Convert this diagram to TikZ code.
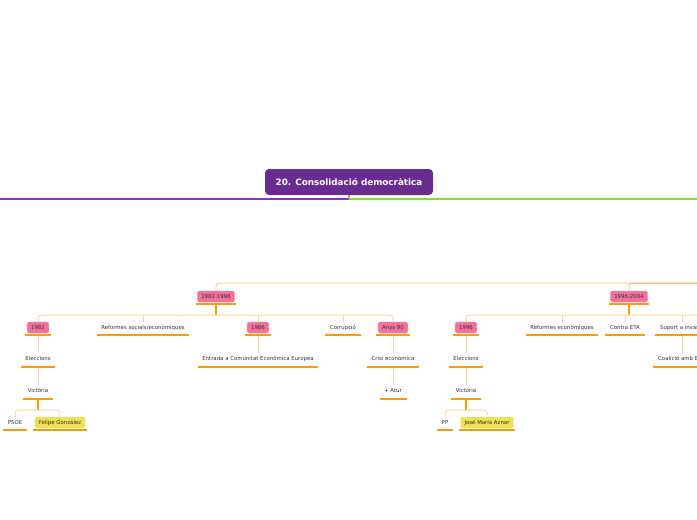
\documentclass[tikz,border=0pt]{standalone}
\usepackage{fontspec}
\setmainfont{DejaVu Sans}
\usepackage{tikz}
\usetikzlibrary{positioning,calc}
\definecolor{rootpurple}{HTML}{6A2C91}
\definecolor{leftline}{HTML}{8E2BE0}
\definecolor{rightline}{HTML}{80E02A}
\definecolor{stemolive}{HTML}{A0B040}
\definecolor{datepink}{HTML}{F4709C}
\definecolor{namegold}{HTML}{EEE055}
\definecolor{barorange}{HTML}{FF9A00}
\definecolor{twigorange}{HTML}{FDD49A}
\definecolor{inkgray}{HTML}{333333}
\tikzset{
  rootbox/.style={fill=rootpurple,rounded corners=4pt,text=white,font=\fontsize{8.8}{10}\selectfont\bfseries,
    minimum width=168pt,minimum height=26pt,inner sep=0pt},
  leaf/.style={font=\fontsize{5.4}{6.5}\selectfont,text=inkgray,inner xsep=4.5pt,inner ysep=0pt,
    minimum height=11pt,text height=4pt,text depth=0.6pt},
  datebox/.style={leaf,fill=datepink,draw=datepink!70,line width=0.4pt,rounded corners=1.5pt,inner xsep=4pt},
  namebox/.style={datebox,fill=namegold,draw=namegold!70},
  ulbar/.style={draw=barorange,line width=2.2pt},
  twig/.style={draw=twigorange,line width=1pt,rounded corners=3pt},
  topbranch/.style={draw=orange,draw opacity=0.4,line width=1pt,rounded corners=3pt},
  stem/.style={draw=barorange,line width=1.2pt}
}
\begin{document}
\begin{tikzpicture}[x=1pt,y=-1pt]
  \useasboundingbox (0,0) rectangle (697,520);
  \clip (0,0) rectangle (697,520);
  % root
  \node[rootbox] (root) at (349,182) {20. Consolidació democràtica};
  \coordinate (b0) at (349,199);
  \coordinate (w0) at (0,199);
  \coordinate (e0) at (697,199);
  \draw[leftline,line width=1.1pt] (b0) -- (w0);
  \draw[rightline,line width=1.1pt] (b0) -- (e0);
  \draw[stemolive,line width=1.1pt] (root.south) -- (b0);
  % periods
  \node[datebox] (p8296) at (216,296.5) {1982-1996};
  \node[datebox] (p9604) at (629,296.5) {1996-2004};
  \coordinate (e1) at (697,283);
  \draw[topbranch] (p8296.north) |- (e1);
  \draw[topbranch] (p9604.north) |- (e1);
  % 1982-1996
  \node[datebox] (a1982) at (38,327.5) {1982};
  \node[leaf] (refsoc) at (143,327.5) {Reformes socials/econòmiques};
  \node[datebox] (a1986) at (258,327.5) {1986};
  \node[leaf] (corrup) at (343,327.5) {Corrupció};
  \node[datebox] (a90) at (393,327.5) {Anys 90};
  \node[leaf] (e1982) at (38,359) {Eleccions};
  \node[leaf] (cee) at (258,359) {Entrada a Comunitat Econòmica Europea};
  \node[leaf] (crisi) at (393,359) {Crisi econòmica};
  \node[leaf] (v1982) at (38,391) {Victòria};
  \node[leaf] (atur) at (393,391) {+ Atur};
  \node[leaf] (psoe) at (15,422.5) {PSOE};
  \node[namebox] (felipe) at (60,422.5) {Felipe González};
  \coordinate (bar1) at (216,315);
  \coordinate (bar3) at (38,410);
  \draw[stem] ([yshift=-3pt]p8296.south) -- (bar1);
  \draw[twig] (a1982.north) |- (bar1) -| (a90.north);
  \draw[twig] (refsoc.north) -- (refsoc.north |- bar1);
  \draw[twig] (a1986.north) -- (a1986.north |- bar1);
  \draw[twig] (corrup.north) -- (corrup.north |- bar1);
  \draw[twig] ([yshift=-3pt]a1982.south) -- (e1982.north);
  \draw[twig] ([yshift=-3pt]e1982.south) -- (v1982.north);
  \draw[twig] ([yshift=-3pt]a1986.south) -- (cee.north);
  \draw[twig] ([yshift=-3pt]a90.south) -- (crisi.north);
  \draw[twig] ([yshift=-3pt]crisi.south) -- (atur.north);
  \draw[stem] ([yshift=-3pt]v1982.south) -- (bar3);
  \draw[twig] (psoe.north) |- (bar3) -| (felipe.north);
  % 1996-2004
  \node[datebox] (a1996) at (466,327.5) {1996};
  \node[leaf] (refeco) at (562,327.5) {Reformes econòmiques};
  \node[leaf] (eta) at (625,327.5) {Contra ETA};
  \node[leaf] (suport) at (682,327.5) {Suport a invasió};
  \node[leaf] (e1996) at (466,359) {Eleccions};
  \node[leaf] (coalicio) at (682,359) {Coalició amb EUA};
  \node[leaf] (v1996) at (466,391) {Victòria};
  \node[leaf] (pp) at (445,422.5) {PP};
  \node[namebox] (aznar) at (487,422.5) {José María Aznar};
  \coordinate (bar2) at (629,315);
  \coordinate (e2) at (697,315);
  \coordinate (bar4) at (466,410);
  \draw[stem] ([yshift=-3pt]p9604.south) -- (bar2);
  \draw[twig] (a1996.north) |- (e2);
  \draw[twig] (refeco.north) -- (refeco.north |- bar2);
  \draw[twig] (eta.north) -- (eta.north |- bar2);
  \draw[twig] (suport.north) -- (suport.north |- bar2);
  \draw[twig] ([yshift=-3pt]a1996.south) -- (e1996.north);
  \draw[twig] ([yshift=-3pt]e1996.south) -- (v1996.north);
  \draw[twig] ([yshift=-3pt]suport.south) -- (coalicio.north);
  \draw[stem] ([yshift=-3pt]v1996.south) -- (bar4);
  \draw[twig] (pp.north) |- (bar4) -| (aznar.north);
  % underlines
  \foreach \n in {refsoc,corrup,e1982,cee,crisi,v1982,atur,psoe,refeco,eta,suport,e1996,coalicio,v1996,pp}
    \draw[ulbar] ([yshift=-2pt]\n.south west) -- ([yshift=-2pt]\n.south east);
  \foreach \n in {p8296,p9604,a1982,a1986,a90,felipe,a1996,aznar}
    \draw[ulbar] ([xshift=-1.5pt,yshift=-2pt]\n.south west) -- ([xshift=1.5pt,yshift=-2pt]\n.south east);
\end{tikzpicture}
\end{document}
